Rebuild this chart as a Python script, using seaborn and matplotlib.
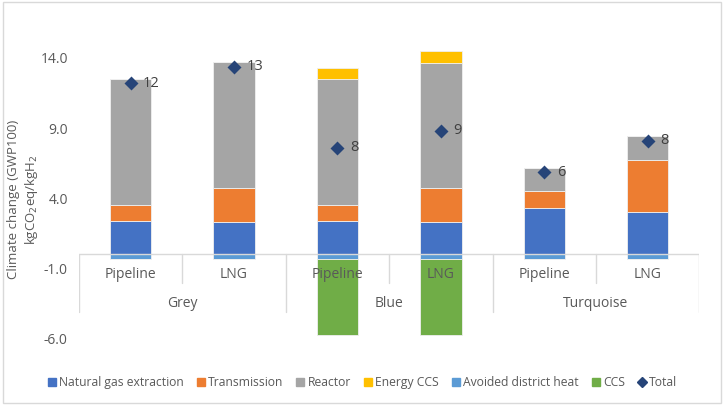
import matplotlib
matplotlib.use("Agg")
import matplotlib.pyplot as plt
import seaborn as sns
import numpy as np
from matplotlib.lines import Line2D
from matplotlib.patches import Rectangle

# --- data (kgCO2eq/kgH2) ---
groups = ["Grey", "Blue", "Turquoise"]
routes = ["Pipeline", "LNG"]
cases = [f"{g} {r}" for g in groups for r in routes]

extraction = [2.38, 2.31, 2.38, 2.29, 3.29, 2.98]
transmission = [1.10, 2.38, 1.10, 2.40, 1.19, 3.73]
reactor = [9.00, 9.00, 9.02, 8.98, 1.69, 1.69]
energy_ccs = [0.00, 0.00, 0.79, 0.83, 0.00, 0.00]
avoided_heat = [-0.33, -0.33, -0.33, -0.33, -0.33, -0.33]
ccs = [0.00, 0.00, -5.41, -5.41, 0.00, 0.00]
totals = [12.19, 13.36, 7.60, 8.79, 5.86, 8.10]

series_names = ["Natural gas extraction", "Transmission", "Reactor", "Energy CCS",
                "Avoided district heat", "CCS"]
colors = ["#4472C4", "#ED7D31", "#A5A5A5", "#FFC000", "#5B9BD5", "#70AD47"]
total_color = "#264478"
txt_color = "#595959"
line_color = "#D9D9D9"

sns.set_theme(style="white")
plt.rcParams["font.family"] = ["Open Sans", "DejaVu Sans"]

fig = plt.figure(figsize=(7.24, 4.05), dpi=100)
ax = fig.add_axes([0.109, 0.165, 0.857, 0.761])

# stacked positive layers
pos = [extraction, transmission, reactor, energy_ccs]
bottom = np.zeros(len(cases))
for vals, c in zip(pos, colors[:4]):
    sns.barplot(x=cases, y=vals, bottom=bottom, color=c, saturation=1, width=0.4,
                errorbar=None, linewidth=0.6, edgecolor="#EFEFEF", ax=ax, order=cases,
                zorder=2)
    bottom = bottom + np.array(vals)

# stacked negative layers
nbottom = np.zeros(len(cases))
for vals, c in zip([avoided_heat, ccs], colors[4:]):
    sns.barplot(x=cases, y=vals, bottom=nbottom, color=c, saturation=1, width=0.4,
                errorbar=None, linewidth=0.6, edgecolor="#EFEFEF", ax=ax, order=cases,
                zorder=2)
    nbottom = nbottom + np.array(vals)

# totals
sns.pointplot(x=cases, y=totals, order=cases, color=total_color, marker="D",
              markersize=5, linestyle="none", errorbar=None, ax=ax, zorder=5)
for i, t in enumerate(totals):
    ax.annotate(f"{t:.0f}", (i, t), xytext=(9, 0), textcoords="offset points",
                va="center", ha="left", fontsize=10.5, color="#404040", zorder=6)

ax.set_xlim(-0.5, len(cases) - 0.5)
ax.set_ylim(-6, 16)
ax.set_yticks([-6, -1, 4, 9, 14])
ax.set_yticklabels([f"{v:.1f}" for v in [-6, -1, 4, 9, 14]])
ax.tick_params(axis="y", colors=txt_color, labelsize=10, length=0, pad=8)
ax.set_xticks([])
ax.set_xlabel("")
for s in ax.spines.values():
    s.set_visible(False)

# category axis (multi-level)
ax.axhline(0, color=line_color, lw=1, zorder=3)
n = len(cases)
for k in range(n + 1):
    xb = k - 0.5
    long_tick = k % len(routes) == 0
    ax.plot([xb, xb], [0, -4.14 if long_tick else -2.07], color=line_color, lw=1, zorder=1)
for i, c in enumerate(cases):
    ax.text(i, -1.43, routes[i % len(routes)], ha="center", va="center",
            fontsize=10, color=txt_color, zorder=6)
for g, name in enumerate(groups):
    ax.text(g * len(routes) + 0.5, -3.5, name, ha="center", va="center",
            fontsize=10, color=txt_color, zorder=6)

ax.set_ylabel("Climate change (GWP100)\nkgCO$_2$eq/kgH$_2$", color=txt_color,
              fontsize=9.5, linespacing=1.25)
ax.yaxis.set_label_coords(-0.062, 0.45)

# legend
handles = [Line2D([], [], marker="s", linestyle="none", color=c, markersize=6)
           for c in colors]
handles.append(Line2D([], [], marker="D", linestyle="none", color=total_color, markersize=5))
fig.legend(handles, series_names + ["Total"], loc="center", bbox_to_anchor=(0.5, 0.056),
           ncol=7, frameon=False, fontsize=8.7, handlelength=0.8, handletextpad=0.2,
           columnspacing=1.0, labelcolor=txt_color)

fig.patches.append(Rectangle((0.004, 0.004), 0.992, 0.992, transform=fig.transFigure,
                             fill=False, edgecolor=line_color, lw=1))

fig.savefig("out.png", dpi=100)
